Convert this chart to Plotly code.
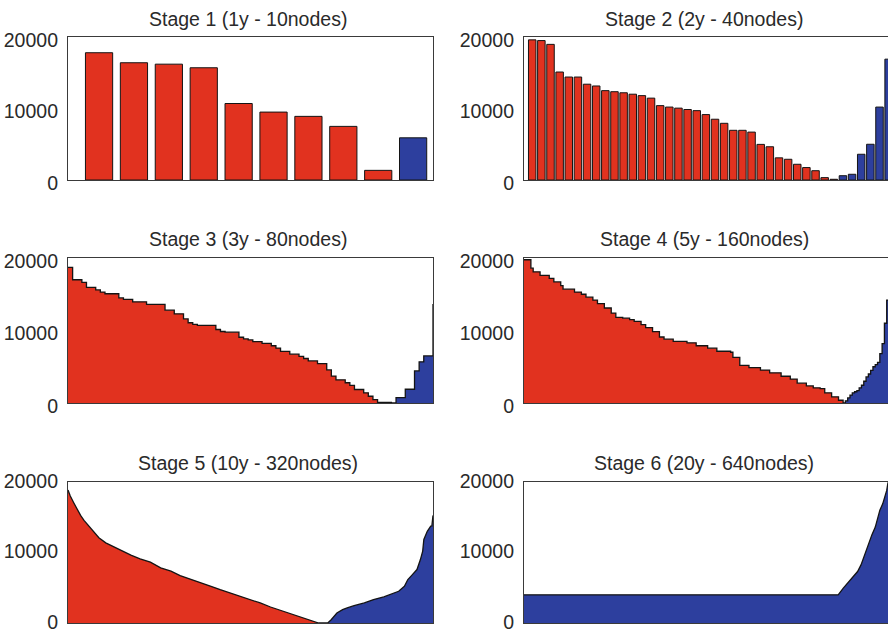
import plotly.graph_objects as go

# ---------------- data ----------------
titles = ["Stage 1 (1y - 10nodes)", "Stage 2 (2y - 40nodes)",
          "Stage 3 (3y - 80nodes)", "Stage 4 (5y - 160nodes)",
          "Stage 5 (10y - 320nodes)", "Stage 6 (20y - 640nodes)"]

y_tickvals = [0, 10000, 20000]
y_ticktext = ["0", "10000", "20000"]

# Stage 1: 10 nodes (bars); first 9 red, last blue
s1_values = [17800, 16400, 16200, 15700, 10700, 9500, 8900, 7500, 1350, 5900]
s1_nred = 9

# Stage 2: 40 nodes (bars); first 34 red, rest blue
s2_values = [19600, 19500, 18970, 15100, 14400, 14400, 13400, 13150, 12500, 12350,
             12200, 12000, 11800, 11450, 10400, 10200, 10050, 9860, 9700, 9150,
             8500, 7930, 6950, 6950, 6700, 4980, 4650, 3100, 2900, 2200,
             1740, 1300, 330, 100, 600, 800, 3600, 5000, 10200, 16900]
s2_nred = 34

# Stage 3: 80 nodes (stairs); first 71 red, rest blue
s3_values = [18700, 17000, 17000, 16650, 15950, 15950, 15600, 15300, 15070, 15070,
             15070, 14500, 14300, 14300, 13950, 13950, 13950, 13600, 13600, 13600,
             13600, 12800, 12800, 12300, 12300, 11600, 11070, 10840, 10700, 10700,
             10700, 10700, 10140, 9860, 9770, 9770, 9770, 9070, 8840, 8700,
             8470, 8470, 8230, 8230, 7900, 7580, 7120, 7120, 6740, 6740,
             6420, 6140, 5810, 5810, 5440, 5440, 4560, 3720, 3200, 3200,
             2790, 2420, 1860, 1860, 1400, 930, 470, 100, 100, 100,
             0, 740, 740, 1900, 1900, 4430, 5680, 6500, 6500, 13670]
s3_nred = 71

# Stage 4: 160 nodes (stairs) - node where each level starts, and level
s4_nodes = [1, 4, 5, 8, 12, 14, 17, 18, 23, 26, 28, 31, 33, 36, 39, 41, 44, 47, 49, 52,
            54, 57, 60, 62, 66, 72, 76, 81, 85, 91, 92, 95, 99, 104, 108, 113, 117, 120,
            124, 127, 130, 132, 135, 138, 140,
            141, 142, 143, 144, 145, 146, 147, 148, 149, 150, 151, 152, 153, 154, 155,
            156, 157, 158, 159, 160]
s4_values = [19760, 18600, 18100, 17600, 17200, 16700, 16200, 15700, 15300, 15000, 14600,
             14200, 13700, 13100, 12400, 11800, 11700, 11500, 11250, 10800,
             10400, 9850, 9100, 8800, 8500, 8300, 7900, 7560, 7140, 7000, 6300, 5200,
             4870, 4540, 4160, 3690, 3300, 2740, 2360, 2100, 1990, 1400, 850, 380, 0,
             300, 700, 1100, 1400, 1550, 1700, 2100, 2450, 3000, 3600, 4000, 4500, 5000,
             5300, 5600, 6800, 8200, 11000, 14200, 17500]
s4_blue_from = 141

# Stage 5: 320 nodes - points read along the profile
s5_nodes = [1, 3, 6, 9, 12, 15, 19, 24, 28, 34, 41, 48, 56, 64, 73, 82, 91, 99, 108, 117,
            126, 134, 143, 152, 161, 169, 178, 187, 196, 204, 213, 220,
            228, 231, 236, 241, 245, 251, 260, 268, 277, 286, 290, 295, 298, 302, 306,
            309, 311, 312, 315, 318, 319, 320]
s5_values = [18860, 18000, 17060, 16100, 15260, 14550, 13740, 12800, 12090, 11370, 10800,
             10330, 9620, 9100, 8630, 7820, 7350, 6730, 6260, 5780, 5210, 4740, 4270,
             3790, 3320, 2840, 2270, 1800, 1330, 850, 380, 0,
             0, 470, 1420, 1900, 2130, 2460, 2840, 3320, 3700, 4270, 4500, 5200, 6160,
             6870, 7580, 9000, 10200, 11850, 13000, 13740, 13740, 15260]
s5_blue_from = 228

# Stage 6: 640 nodes - points read along the profile (all blue)
s6_nodes = [1, 551, 560, 569, 578, 585, 591, 595, 600, 604, 610, 616, 620, 624, 629,
            633, 636, 638, 640]
s6_values = [4000, 4000, 4940, 5740, 6590, 7300, 8240, 9170, 10100, 11300, 12500, 13600,
             14800, 16000, 16900, 17900, 18800, 19800, 20300]

# ---------------- styling ----------------
RED = "#E1321F"
BLUE = "#2D3F9E"
OUTLINE = "#141414"
FRAME = "#3a3a3a"
FONT = "Liberation Sans, Arial, sans-serif"
W, H = 888, 634

left_dom = [68 / W, 433 / W]
right_dom = [524 / W, 1.0]
rows = [(37, 180), (258, 403), (482, 623)]
row_dom = [[1 - b / H, 1 - t / H] for (t, b) in rows]
row_label_shift = [3, 3, -1]

x_ranges = [[0.11, 10.57], [0.1, 39.93], [1, 80], [1, 159.56], [1, 320], [1, 638.25]]

fig = go.Figure()


def ax_names(i):
    return ("x" if i == 0 else f"x{i+1}"), ("y" if i == 0 else f"y{i+1}")


# Stage 1 & 2 bars
for i, (vals, nred, bw) in enumerate([(s1_values, s1_nred, 0.78), (s2_values, s2_nred, 0.82)]):
    xa, ya = ax_names(i)
    fig.add_trace(go.Bar(
        x=list(range(1, len(vals) + 1)), y=vals, width=bw,
        marker=dict(color=[RED if k < nred else BLUE for k in range(len(vals))],
                    line=dict(color=OUTLINE, width=1)),
        xaxis=xa, yaxis=ya, showlegend=False, hoverinfo="skip"))

# Stage 3 stairs
xa, ya = ax_names(2)
n3 = len(s3_values)
fig.add_trace(go.Scatter(x=list(range(1, s3_nred + 2)),
                         y=s3_values[:s3_nred] + [s3_values[s3_nred - 1]],
                         mode="lines", line=dict(width=0, shape="hv"), fill="tozeroy",
                         fillcolor=RED, xaxis=xa, yaxis=ya, showlegend=False, hoverinfo="skip"))
fig.add_trace(go.Scatter(x=list(range(s3_nred + 1, n3 + 1)), y=s3_values[s3_nred:],
                         mode="lines", line=dict(width=0, shape="hv"), fill="tozeroy",
                         fillcolor=BLUE, xaxis=xa, yaxis=ya, showlegend=False, hoverinfo="skip"))
fig.add_trace(go.Scatter(x=list(range(1, n3 + 1)), y=s3_values, mode="lines",
                         line=dict(color=OUTLINE, width=1.3, shape="hv"),
                         xaxis=xa, yaxis=ya, showlegend=False, hoverinfo="skip"))


def split_traces(nodes, values, blue_from, shape, idx):
    xa, ya = ax_names(idx)
    kb = nodes.index(blue_from)
    if kb > 0:
        rx = nodes[:kb] + [blue_from]
        ry = values[:kb] + [values[kb - 1]]
        fig.add_trace(go.Scatter(x=rx, y=ry, mode="lines", line=dict(width=0, shape=shape),
                                 fill="tozeroy", fillcolor=RED, xaxis=xa, yaxis=ya,
                                 showlegend=False, hoverinfo="skip"))
    fig.add_trace(go.Scatter(x=nodes[kb:], y=values[kb:], mode="lines",
                             line=dict(width=0, shape=shape), fill="tozeroy", fillcolor=BLUE,
                             xaxis=xa, yaxis=ya, showlegend=False, hoverinfo="skip"))
    fig.add_trace(go.Scatter(x=nodes, y=values, mode="lines",
                             line=dict(color=OUTLINE, width=1.3, shape=shape),
                             xaxis=xa, yaxis=ya, showlegend=False, hoverinfo="skip"))


split_traces(s4_nodes, s4_values, s4_blue_from, "hv", 3)
split_traces(s5_nodes, s5_values, s5_blue_from, "linear", 4)
split_traces(s6_nodes, s6_values, s6_nodes[0], "linear", 5)

layout = dict(width=W, height=H, margin=dict(l=0, r=0, t=0, b=0, pad=0, autoexpand=False),
              paper_bgcolor="white", plot_bgcolor="white", showlegend=False)
annotations = []
for i in range(6):
    col = i % 2
    row = i // 2
    key = "" if i == 0 else str(i + 1)
    dom = left_dom if col == 0 else right_dom
    layout["xaxis" + key] = dict(
        domain=dom, range=x_ranges[i], anchor="y" + key, showgrid=False, zeroline=False,
        showticklabels=False, ticks="", showline=True, mirror=True, automargin=False,
        linecolor=FRAME, linewidth=1.2, fixedrange=True)
    layout["yaxis" + key] = dict(
        domain=row_dom[row], range=[0, 20000], anchor="x" + key, showgrid=False,
        zeroline=False, ticks="", tickvals=y_tickvals, ticktext=y_ticktext,
        tickfont=dict(family=FONT, size=19.5, color="#2a2a2a"),
        ticklabelstandoff=5, ticklabelshift=row_label_shift[row], automargin=False,
        ticklabeloverflow="allow",
        showline=True, mirror=(col == 0), linecolor=FRAME, linewidth=1.2, fixedrange=True)
    cx = 248 if col == 0 else 704
    cy = [19, 239, 463][row]
    annotations.append(dict(text=titles[i], x=cx / W, y=1 - cy / H, xref="paper",
                            yref="paper", xanchor="center", yanchor="middle",
                            showarrow=False,
                            font=dict(family=FONT, size=19.5, color="#2a2a2a")))
layout["annotations"] = annotations
fig.update_layout(**layout)

fig.write_html("out.html")
